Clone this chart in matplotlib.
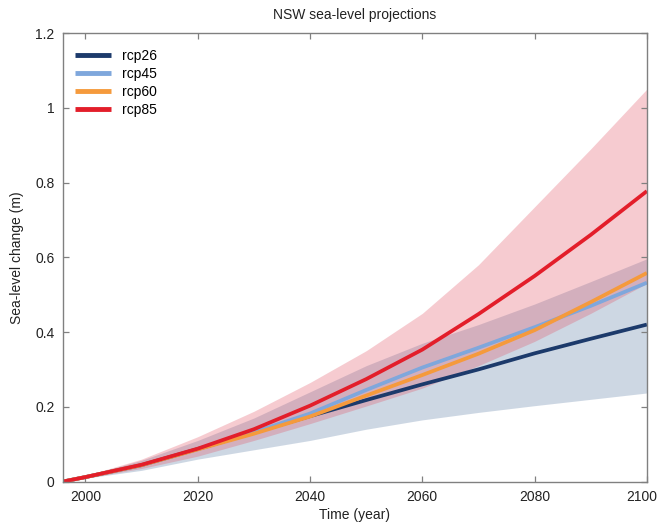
import matplotlib
matplotlib.use("Agg")
import matplotlib.pyplot as plt
import matplotlib.transforms as mtransforms

plt.rcParams['font.family'] = ['Liberation Sans', 'DejaVu Sans']

years = [1996, 2000, 2010, 2020, 2030, 2040, 2050, 2060, 2070, 2080, 2090, 2100]

rcp26 = [0, 0.012, 0.044, 0.087, 0.131, 0.175, 0.218, 0.260, 0.300, 0.343, 0.382, 0.420]
rcp45 = [0, 0.012, 0.044, 0.087, 0.132, 0.182, 0.245, 0.305, 0.358, 0.413, 0.470, 0.532]
rcp60 = [0, 0.012, 0.044, 0.086, 0.128, 0.174, 0.230, 0.285, 0.342, 0.405, 0.480, 0.558]
rcp85 = [0, 0.012, 0.045, 0.088, 0.140, 0.203, 0.274, 0.353, 0.448, 0.550, 0.660, 0.777]

rcp26_low = [0, 0.009, 0.030, 0.060, 0.085, 0.110, 0.140, 0.165, 0.185, 0.203, 0.220, 0.237]
rcp26_high = [0, 0.015, 0.057, 0.110, 0.170, 0.240, 0.310, 0.370, 0.420, 0.475, 0.535, 0.596]
rcp85_low = [0, 0.009, 0.035, 0.068, 0.110, 0.155, 0.202, 0.250, 0.310, 0.375, 0.450, 0.530]
rcp85_high = [0, 0.016, 0.060, 0.120, 0.188, 0.265, 0.350, 0.450, 0.580, 0.735, 0.890, 1.050]

series = [("rcp26", rcp26, "#1c3a6b"),
          ("rcp45", rcp45, "#7fa7dc"),
          ("rcp60", rcp60, "#f59a3c"),
          ("rcp85", rcp85, "#e31e2a")]

fig = plt.figure(figsize=(6.59, 5.24), dpi=100)
ax = fig.add_axes([0.0956, 0.081, 0.886, 0.856])

ax.fill_between(years, rcp26_low, rcp26_high, color="#5c7da5", alpha=0.3, linewidth=0)
ax.fill_between(years, rcp85_low, rcp85_high, color="#e25566", alpha=0.3, linewidth=0)

for name, vals, col in series:
    ax.plot(years, vals, color=col, linewidth=2.7, label=name, solid_capstyle='butt')

ax.set_xlim(1996, 2100)
ax.set_ylim(0, 1.2)
ax.set_xticks([2000, 2020, 2040, 2060, 2080, 2100])
ax.set_yticks([0, 0.2, 0.4, 0.6, 0.8, 1.0, 1.2])
ax.set_yticklabels(["0", "0.2", "0.4", "0.6", "0.8", "1", "1.2"])

for s in ax.spines.values():
    s.set_color("#808080")
    s.set_linewidth(1.0)
ax.tick_params(direction="in", length=4.5, width=0.9, color="#808080",
               top=True, right=True, labelsize=10, labelcolor="#222222", pad=6)

# nudge the last x tick label so it stays inside the figure
fig.canvas.draw()
xlabels = ax.get_xticklabels()
off = mtransforms.ScaledTranslation(-5 / 100, 0, fig.dpi_scale_trans)
xlabels[-1].set_transform(xlabels[-1].get_transform() + off)

ax.set_title("NSW sea-level projections", fontsize=10, color="#222222", pad=10)
ax.set_xlabel("Time (year)", fontsize=10, color="#222222", labelpad=3)
ax.set_ylabel("Sea-level change (m)", fontsize=10, color="#222222", labelpad=8)

leg = ax.legend(loc="upper left", frameon=False, fontsize=10, handlelength=2.6,
                handletextpad=0.8, labelspacing=0.28, borderaxespad=0.6,
                bbox_to_anchor=(-0.004, 0.995))
for line in leg.get_lines():
    line.set_linewidth(3.5)

fig.savefig("out.png", dpi=100)
